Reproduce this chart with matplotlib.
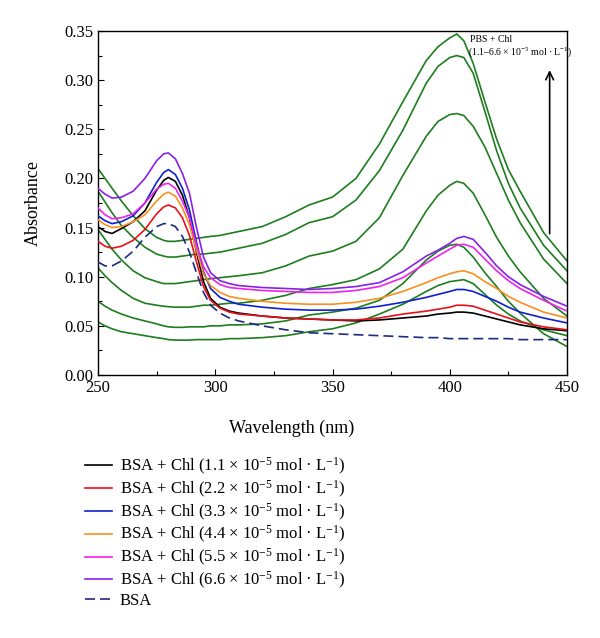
import matplotlib

matplotlib.use("Agg")

import matplotlib.pyplot as plt

plt.rcParams["font.family"] = ["Liberation Serif", "DejaVu Serif"]
plt.rcParams["mathtext.fontset"] = "custom"
plt.rcParams["mathtext.rm"] = "Liberation Serif"
plt.rcParams["mathtext.it"] = "Liberation Serif:italic"

# 波长网格 (nm)
wavelength = [250, 253, 256, 260, 265, 270, 275, 278, 280, 283, 286, 289, 292, 295, 298,
              302, 306, 310, 320, 330, 340, 350, 360, 370, 380, 390, 395, 400, 403, 406,
              410, 415, 420, 425, 430, 440, 450]

bsa_chl_11 = [0.151, 0.146, 0.144, 0.149, 0.156, 0.167, 0.188, 0.198, 0.201, 0.197, 0.183,
              0.160, 0.125, 0.095, 0.078, 0.069, 0.065, 0.063, 0.060, 0.058, 0.057, 0.056,
              0.055, 0.056, 0.058, 0.060, 0.062, 0.063, 0.064, 0.064, 0.063, 0.060, 0.057,
              0.054, 0.051, 0.047, 0.045]
bsa_chl_22 = [0.136, 0.131, 0.129, 0.131, 0.137, 0.148, 0.164, 0.171, 0.173, 0.170, 0.160,
              0.142, 0.115, 0.090, 0.076, 0.068, 0.064, 0.062, 0.060, 0.058, 0.057, 0.056,
              0.056, 0.058, 0.062, 0.065, 0.067, 0.069, 0.071, 0.071, 0.070, 0.066, 0.062,
              0.058, 0.054, 0.049, 0.046]
bsa_chl_33 = [0.162, 0.157, 0.154, 0.156, 0.162, 0.175, 0.196, 0.206, 0.209, 0.204, 0.190,
              0.168, 0.135, 0.105, 0.088, 0.079, 0.075, 0.072, 0.069, 0.067, 0.066, 0.066,
              0.067, 0.070, 0.074, 0.079, 0.082, 0.085, 0.087, 0.087, 0.085, 0.080, 0.075,
              0.069, 0.064, 0.058, 0.053]
bsa_chl_44 = [0.158, 0.153, 0.150, 0.151, 0.156, 0.163, 0.177, 0.184, 0.186, 0.182, 0.170,
              0.153, 0.127, 0.103, 0.091, 0.084, 0.080, 0.078, 0.075, 0.073, 0.072, 0.072,
              0.074, 0.078, 0.085, 0.094, 0.099, 0.103, 0.105, 0.106, 0.103, 0.095, 0.088,
              0.080, 0.074, 0.064, 0.058]
bsa_chl_55 = [0.170, 0.163, 0.159, 0.160, 0.164, 0.175, 0.189, 0.194, 0.195, 0.190, 0.177,
              0.160, 0.132, 0.110, 0.099, 0.092, 0.089, 0.088, 0.086, 0.085, 0.084, 0.084,
              0.086, 0.090, 0.099, 0.114, 0.121, 0.128, 0.132, 0.133, 0.130, 0.118, 0.106,
              0.096, 0.088, 0.076, 0.065]
bsa_chl_66 = [0.190, 0.184, 0.180, 0.181, 0.187, 0.200, 0.218, 0.225, 0.226, 0.220, 0.205,
              0.185, 0.150, 0.120, 0.104, 0.096, 0.093, 0.091, 0.089, 0.088, 0.087, 0.088,
              0.090, 0.094, 0.105, 0.121, 0.127, 0.134, 0.139, 0.141, 0.138, 0.125, 0.111,
              0.100, 0.092, 0.080, 0.070]
bsa_only = [0.115, 0.111, 0.111, 0.116, 0.126, 0.140, 0.151, 0.154, 0.154, 0.151, 0.141,
            0.125, 0.104, 0.084, 0.071, 0.063, 0.058, 0.055, 0.050, 0.046, 0.043, 0.042,
            0.041, 0.040, 0.039, 0.038, 0.038, 0.037, 0.037, 0.037, 0.037, 0.037, 0.037,
            0.037, 0.036, 0.036, 0.036]

# PBS + Chl 系列 (从高到低)
pbs_chl = [
    [0.210, 0.200, 0.190, 0.177, 0.162, 0.149, 0.140, 0.137, 0.136, 0.136, 0.137, 0.138,
     0.139, 0.140, 0.141, 0.142, 0.144, 0.146, 0.151, 0.161, 0.173, 0.181, 0.200, 0.235,
     0.278, 0.320, 0.334, 0.343, 0.347, 0.340, 0.317, 0.278, 0.240, 0.209, 0.187, 0.145,
     0.116],
    [0.187, 0.176, 0.165, 0.152, 0.140, 0.130, 0.123, 0.121, 0.120, 0.120, 0.121, 0.122,
     0.123, 0.123, 0.124, 0.125, 0.127, 0.129, 0.134, 0.143, 0.155, 0.161, 0.178, 0.208,
     0.249, 0.297, 0.314, 0.323, 0.325, 0.323, 0.307, 0.268, 0.228, 0.195, 0.170, 0.132,
     0.106],
    [0.148, 0.138, 0.128, 0.117, 0.106, 0.099, 0.095, 0.093, 0.093, 0.093, 0.094, 0.095,
     0.096, 0.097, 0.098, 0.099, 0.100, 0.101, 0.104, 0.111, 0.121, 0.126, 0.136, 0.160,
     0.203, 0.243, 0.258, 0.265, 0.266, 0.264, 0.253, 0.232, 0.205, 0.178, 0.155, 0.118,
     0.093],
    [0.109, 0.101, 0.094, 0.086, 0.078, 0.073, 0.071, 0.070, 0.0695, 0.069, 0.069, 0.069,
     0.070, 0.071, 0.071, 0.072, 0.073, 0.073, 0.076, 0.081, 0.088, 0.092, 0.097, 0.108,
     0.128, 0.167, 0.183, 0.193, 0.197, 0.195, 0.185, 0.163, 0.140, 0.121, 0.105, 0.078,
     0.060],
    [0.075, 0.070, 0.066, 0.062, 0.058, 0.055, 0.052, 0.050, 0.049, 0.0485, 0.0485, 0.049,
     0.049, 0.049, 0.050, 0.050, 0.051, 0.051, 0.052, 0.055, 0.061, 0.064, 0.068, 0.076,
     0.093, 0.117, 0.126, 0.132, 0.133, 0.130, 0.120, 0.104, 0.090, 0.075, 0.063, 0.042,
     0.029],
    [0.054, 0.050, 0.047, 0.044, 0.042, 0.040, 0.038, 0.037, 0.036, 0.0355, 0.0355, 0.0355,
     0.036, 0.036, 0.036, 0.036, 0.037, 0.037, 0.038, 0.040, 0.044, 0.047, 0.053, 0.062,
     0.072, 0.085, 0.091, 0.095, 0.096, 0.097, 0.093, 0.082, 0.071, 0.062, 0.055, 0.046,
     0.040],
]

conc_labels = ["1.1", "2.2", "3.3", "4.4", "5.5", "6.6"]
bsa_series = [bsa_chl_11, bsa_chl_22, bsa_chl_33, bsa_chl_44, bsa_chl_55, bsa_chl_66]
bsa_colors = ["#000000", "#e8101a", "#1020d0", "#f7901e", "#ee22ee", "#8a20e8"]
green = "#1e7d1e"

fig = plt.figure(figsize=(6.0, 6.38), dpi=100)
ax = fig.add_axes([98 / 600, 1 - 375 / 638, 469 / 600, 344 / 638])

for ys in pbs_chl:
    ax.plot(wavelength, ys, color=green, linewidth=1.2, zorder=2)

handles = []
for ys, c, conc in zip(bsa_series, bsa_colors, conc_labels):
    (ln,) = ax.plot(wavelength, ys, color=c, linewidth=1.2, zorder=3,
                    label=rf"BSA + Chl ({conc} × 10$^{{-5}}$ mol · L$^{{-1}}$)")
    handles.append(ln)
(ln,) = ax.plot(wavelength, bsa_only, color="#1c2a80", linewidth=1.2, linestyle=(0, (6, 3)),
                zorder=3, label="BSA")
handles.append(ln)

ax.set_xlim(250, 450)
ax.set_ylim(0, 0.35)
ax.set_xticks([250, 300, 350, 400, 450])
ax.set_xticks([275, 325, 375, 425], minor=True)
ax.set_yticks([0.0, 0.05, 0.10, 0.15, 0.20, 0.25, 0.30, 0.35])
ax.set_yticklabels([f"{v:.2f}" for v in ax.get_yticks()])
ax.set_yticks([0.025 + 0.05 * i for i in range(7)], minor=True)
ax.tick_params(which="both", direction="in", top=False, right=False, labelsize=12)
ax.tick_params(which="major", length=4, width=0.8)
ax.tick_params(which="minor", length=3, width=0.8)
for spine in ax.spines.values():
    spine.set_linewidth(1.0)

ax.set_ylabel("Absorbance", fontsize=13, labelpad=16)
fig.text(292 / 600, 1 - 428 / 638, "Wavelength (nm)", fontsize=13, ha="center", va="center")

# 箭头与注释
ax.annotate("", xy=(442.6, 0.313), xytext=(442.6, 0.141),
            arrowprops=dict(arrowstyle="->", color="black", lw=1.2, mutation_scale=14))
ax.text(408.6, 0.341, "PBS + Chl", fontsize=7, va="center", ha="left")
ax.text(407.8, 0.329, r"(1.1–6.6 × 10$^{-5}$ mol · L$^{-1}$)", fontsize=7,
        va="center", ha="left")

fig.legend(handles=handles, loc="upper left", bbox_to_anchor=(85 / 600, 1 - 456 / 638),
           frameon=False, fontsize=12, handlelength=1.6, handletextpad=0.5,
           borderpad=0, borderaxespad=0, labelspacing=0.1)

fig.savefig("out.png", dpi=100)
